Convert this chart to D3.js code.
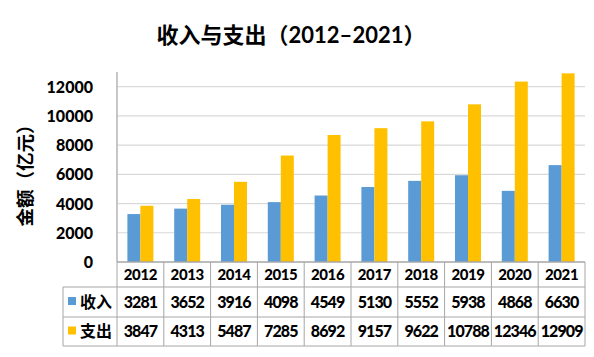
<!DOCTYPE html>
<html><head><meta charset="utf-8">
<script src="https://cdn.jsdelivr.net/npm/d3@7"></script>
<style>
body{margin:0;background:#fff;}
svg text{font-family:"Lato","Noto Sans CJK SC",sans-serif;font-weight:900;fill:#000;}
</style></head>
<body><svg id="c" width="594" height="357"></svg>
<script>
const years = ["2012","2013","2014","2015","2016","2017","2018","2019","2020","2021"];
const income = [3281,3652,3916,4098,4549,5130,5552,5938,4868,6630];
const expense = [3847,4313,5487,7285,8692,9157,9622,10788,12346,12909];
const seriesNames = ["收入","支出"];
const seriesColors = ["#5B9BD5","#FFC000"];
const yTicks = [0,2000,4000,6000,8000,10000,12000];
const title = "收入与支出（2012–2021）";
const yLabel = "金额（亿元）";

(function(){
const svg = d3.select("#c");
const pL = 117, pR = 585, pT = 72, pB = 262;
const x = d3.scaleBand().domain(years).range([pL, pR]);
const y = d3.scaleLinear().domain([0, 13000]).range([pB, pT]);
const cjk = '"Noto Sans CJK SC",sans-serif';

svg.append("text").attr("x", 291).attr("y", 43).attr("text-anchor","middle")
  .style("font-size","22px").style("font-weight","bold").text(title);

svg.append("text").attr("transform","translate(32,171) rotate(-90)")
  .attr("text-anchor","middle").style("font-size","18.5px").style("font-weight","bold").style("font-family",cjk).text(yLabel);

svg.append("g").selectAll("line").data(yTicks.filter(d=>d>0)).join("line")
  .attr("x1", pL).attr("x2", pR).attr("y1", d=>y(d)).attr("y2", d=>y(d))
  .attr("stroke","#d9d9d9").attr("stroke-width",1.2);

const yAxis = d3.axisLeft(y).tickValues(yTicks).tickSize(0).tickPadding(0).tickFormat(d3.format("d"));
const ga = svg.append("g").attr("transform","translate(93,0)").call(yAxis);
ga.select(".domain").remove();
ga.selectAll("text").style("font-size","16px").style("font-family",'"Lato",sans-serif').style("font-weight","900").attr("dy","0.35em");

const barW = 13;
const series = [income, expense];
series.forEach((vals, si) => {
  svg.append("g").selectAll("rect").data(vals).join("rect")
    .attr("x", (d,i) => x(years[i]) + x.bandwidth()/2 - barW + si*barW)
    .attr("width", barW)
    .attr("y", d => y(d))
    .attr("height", d => pB - y(d))
    .attr("fill", seriesColors[si]);
});

svg.append("line").attr("x1",pL).attr("x2",pL).attr("y1",pT).attr("y2",pB)
  .attr("stroke","#b4b4b4").attr("stroke-width",1.5);

const rowH = [262, 287, 317, 346];
const tableLeft = 63;
const tb = svg.append("g");
const lc = "#a6a6a6";
tb.append("line").attr("x1",pL).attr("x2",pR).attr("y1",rowH[0]).attr("y2",rowH[0]).attr("stroke",lc).attr("stroke-width",1.5);
[1,2,3].forEach(k=>{
  tb.append("line").attr("x1",tableLeft).attr("x2",pR).attr("y1",rowH[k]).attr("y2",rowH[k]).attr("stroke",lc);
});
years.forEach(yr=>{
  tb.append("line").attr("x1",x(yr)).attr("x2",x(yr)).attr("y1",rowH[0]).attr("y2",rowH[3]).attr("stroke",lc);
});
tb.append("line").attr("x1",pR).attr("x2",pR).attr("y1",rowH[0]).attr("y2",rowH[3]).attr("stroke",lc);
tb.append("line").attr("x1",tableLeft).attr("x2",tableLeft).attr("y1",rowH[1]).attr("y2",rowH[3]).attr("stroke",lc);

tb.selectAll("text.yr").data(years).join("text").attr("class","yr")
  .attr("x", d=>x(d)+x.bandwidth()/2).attr("y",(rowH[0]+rowH[1])/2).attr("dy","0.36em")
  .attr("text-anchor","middle").style("font-size","15px").style("letter-spacing","-0.4px").text(d=>d);

series.forEach((vals, si) => {
  const cy = (rowH[si+1]+rowH[si+2])/2;
  tb.append("g").selectAll("text").data(vals).join("text")
    .attr("x",(d,i)=>x(years[i])+x.bandwidth()/2).attr("y",cy).attr("dy","0.36em")
    .attr("text-anchor","middle").style("font-size","16px").style("letter-spacing","-0.9px").text(d=>d);
  tb.append("rect").attr("x",68).attr("y",cy-5).attr("width",8).attr("height",8).attr("fill",seriesColors[si]);
  tb.append("text").attr("x",80).attr("y",cy).attr("dy","0.36em").style("font-size","16px").style("font-weight","bold")
    .style("font-family",cjk).text(seriesNames[si]);
});
})();
</script></body></html>
